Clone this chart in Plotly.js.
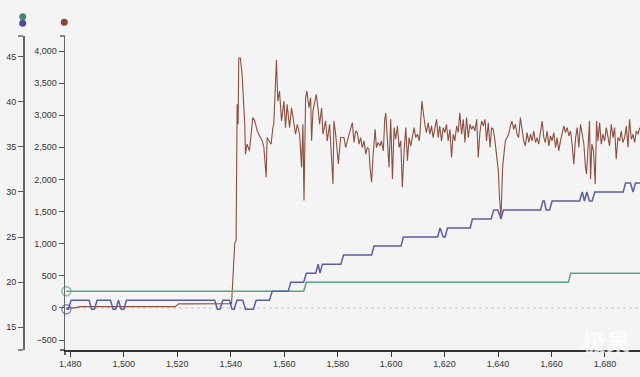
<!DOCTYPE html>
<html>
<head>
<meta charset="utf-8">
<script src="https://cdn.plot.ly/plotly-3.0.1.min.js"></script>
<style>html,body{margin:0;padding:0;background:#f4f4f4;}#chart{width:640px;height:377px;}</style>
</head>
<body>
<div id="chart"></div>
<script>
// ---- data ----
const xTicks = [1480, 1500, 1520, 1540, 1560, 1580, 1600, 1620, 1640, 1660, 1680];
const leftTicks = [15, 20, 25, 30, 35, 40, 45];
const innerTicks = [-500, 0, 500, 1000, 1500, 2000, 2500, 3000, 3500, 4000];

const greenX = [1478.5, 1567.3, 1568.3, 1666.3, 1667.2, 1693.1];
const greenY = [19, 19, 20, 20, 21, 21];

const purpleX = [1478.5, 1479.2, 1480.3, 1487, 1488, 1489, 1490, 1495, 1496, 1497, 1498, 1499, 1500, 1501,
  1534, 1535, 1536, 1537, 1539.5, 1540.5, 1541.3, 1542.3, 1544.5, 1545.5, 1548.5, 1549.5, 1554.5, 1555.5,
  1561.5, 1562.5, 1567.3, 1568.3, 1571.8, 1572.7, 1573.4, 1574.3, 1581.2, 1582.2, 1592.7, 1593.6, 1603.7, 1604.6,
  1617.4, 1618.3, 1619.5, 1620.2, 1621.1, 1629.6, 1630.4, 1637.4, 1638.4, 1639.9, 1641.1, 1642, 1655.9, 1656.8,
  1657.3, 1658, 1659.3, 1660.2, 1670.5, 1671.5, 1672.3, 1673.2, 1674.2, 1675.2, 1676.2, 1686.8, 1687.7, 1689.5,
  1690.5, 1691.4, 1693.1];
const purpleY = [17, 17, 18, 18, 17, 17, 18, 18, 17, 17, 18, 17, 17, 18,
  18, 17, 17, 18, 18, 17, 17, 18, 18, 17, 17, 18, 18, 19,
  19, 20, 20, 21, 21, 22, 21, 22, 22, 23, 23, 24, 24, 25,
  25, 26, 25, 25, 26, 26, 27, 27, 28, 28, 27, 28, 28, 29,
  29, 28, 28, 29, 29, 30, 29, 30, 29, 29, 30, 30, 31, 31,
  30, 31, 31];

const brownX = [1478.5, 1481.7, 1483.6, 1519.2, 1520.5, 1540.3, 1541.5, 1542, 1542.4, 1542.75, 1543, 1543.6,
  1544.25, 1545.25, 1545.5, 1546.1, 1547, 1547.75, 1548.25, 1549, 1549.9, 1550.5, 1551.1, 1551.75, 1552.4,
  1553.25, 1553.6, 1554.5, 1555.1, 1555.75, 1556.1, 1557.1, 1557.6, 1558.25, 1559, 1559.9, 1560.5, 1561.1,
  1562, 1562.75, 1563.6, 1564.25, 1564.9, 1565.75, 1566.5, 1567, 1567.4, 1568, 1568.5, 1569.25, 1569.9,
  1570.25, 1570.75, 1572, 1572.75, 1573.25, 1574, 1574.5, 1575.5, 1576.1, 1577, 1578.25, 1578.6, 1579.25,
  1580.25, 1581.1,
  1582.35, 1583.0, 1583.6, 1584.2, 1584.85, 1585.5, 1586.1, 1586.7, 1587.35, 1588.0, 1588.6, 1589.2, 1589.85,
  1590.5, 1591.1, 1591.7, 1592.1, 1592.7, 1593.2, 1594.0, 1594.5, 1595.1, 1595.85, 1596.35, 1597.1, 1597.6,
  1598.0, 1598.6, 1599.2, 1599.85, 1600.5, 1601.1, 1601.7, 1602.35, 1603.0, 1603.6, 1604.2, 1604.85, 1605.5,
  1606.1, 1606.7, 1607.35, 1608.0, 1608.6, 1609.2, 1609.85, 1610.5, 1610.85, 1611.5, 1612.1, 1612.6, 1613.2,
  1613.85, 1614.5, 1615.1, 1615.7, 1616.35, 1617.0, 1617.6, 1618.2, 1618.85, 1619.5, 1620.1, 1620.7, 1621.35,
  1622.0, 1622.6, 1623.2, 1623.85, 1624.5, 1625.1, 1625.7, 1626.35, 1627.0, 1627.6, 1628.2, 1628.85, 1629.5,
  1630.1, 1630.7, 1631.35, 1632.0, 1632.6, 1633.2, 1633.85, 1634.5, 1635.1, 1635.7, 1636.35, 1637.0, 1637.6,
  1638.2, 1638.85, 1639.5, 1640.1, 1640.6, 1641.1, 1641.7, 1642.1, 1642.7, 1643.35, 1644.0, 1644.6, 1645.2,
  1645.85, 1646.5, 1647.1, 1647.7, 1648.35, 1649.0, 1649.6, 1650.2, 1650.85, 1651.5, 1652.1, 1652.7, 1653.35,
  1654.0, 1654.6, 1655.2, 1655.85, 1656.5, 1657.1, 1657.7, 1658.35, 1659.0, 1659.6, 1660.2, 1660.85, 1661.5,
  1662.1, 1662.7, 1663.35, 1664.0, 1664.6, 1665.2, 1665.85, 1666.5, 1667.1, 1667.7, 1668.35, 1669.0, 1669.6,
  1670.2, 1670.85, 1671.5, 1672.1, 1672.7, 1673.1, 1673.6, 1674.2, 1674.6, 1675.1, 1675.7, 1676.35, 1676.85,
  1677.35, 1678.0, 1678.6, 1679.2, 1679.85, 1680.5, 1681.1, 1681.7, 1682.35, 1683.0, 1683.6, 1684.2, 1684.85,
  1685.5, 1686.1, 1686.7, 1687.35, 1688.0, 1688.6, 1689.2, 1689.85, 1690.5, 1691.1, 1691.7, 1692.35, 1693.0];
const brownY = [0, 0, 20, 20, 62, 65, 1001, 1053, 3169, 2859, 3891, 3891,
  3633, 2859, 2395, 2549, 2446, 2704, 2962, 2911, 2756, 2704, 2653, 2601, 2498,
  2033, 2653, 2601, 2549, 2807, 2859, 3865, 3220, 3375, 2911, 3220, 2807, 3169,
  2807, 3117, 2859, 2704, 2859, 2704, 2188, 2859, 1672, 3272, 3375, 3117, 3272,
  2601, 3065, 3323, 3065, 2859, 3117, 2704, 2911, 2601, 2859, 1930, 2911, 2704,
  2240, 2653,
  2652, 2497, 2601, 2704, 2807, 2884, 2575, 2755, 2730, 2549, 2652, 2497, 2601,
  2394, 2497, 2472, 2188, 1956, 2343, 2781, 2497, 2575, 2523, 2601, 2446, 2936,
  3039, 2549, 2188, 2936, 2007, 2807, 2626, 2833, 2497, 2601, 1878, 2446, 2807,
  2291, 2652, 2523, 2678, 2807, 2652, 2704, 2601, 2755, 3220, 2962, 2859, 2730,
  2884, 2704, 2833, 2652, 2781, 2936, 2652, 2833, 2601, 2807, 2730, 2859, 2601,
  2781, 2343, 2704, 2601, 2833, 2730, 3039, 2704, 2936, 2575, 2962, 2652, 2859,
  2781, 2833, 2755, 2936, 2343, 2730, 2910, 2833, 2936, 2601, 2884, 2497, 2807,
  2781, 2601, 2368, 2136, 1672, 1414, 2188, 2394, 2601, 2652, 2704, 2833, 2910,
  2781, 2859, 2704, 2652, 2962, 2755, 2601, 2523, 2730, 2575, 2704, 2601, 2755,
  2575, 2652, 2549, 2730, 2910, 2652, 2575, 2755, 2523, 2678, 2601, 2730, 2497,
  2652, 2446, 2601, 2755, 2833, 2730, 2807, 2678, 2755, 2549, 2239, 2652, 2807,
  2497, 2859, 2704, 2549, 2188, 2085, 2446, 2910, 2007, 2549, 2446, 1930, 2910,
  2601, 2884, 2549, 2704, 2601, 2807, 2678, 2523, 2859, 2652, 2807, 2317, 2652,
  2601, 2755, 2575, 2652, 2833, 2497, 2936, 2626, 2704, 2575, 2755, 2704, 2807];

// ---- styling ----
const GREEN = '#5f9f86', PURPLE = '#5b5ea3', BROWN = '#8c4f40';
const FONT = {family: 'Liberation Sans, Arial, sans-serif', size: 9, color: '#333'};
const plotW = 617, plotH = 314, marginL = 23, marginT = 36;
const innerPos = (65 - marginL) / plotW;

function firstMarker(arr) { return arr.map((_, i) => i === 0 ? 9 : 0); }

const traces = [
  {x: brownX, y: brownY, type: 'scatter', mode: 'lines', yaxis: 'y', xaxis: 'x',
   line: {color: BROWN, width: 1.1}, hoverinfo: 'skip'},
  {x: greenX, y: greenY, type: 'scatter', mode: 'lines+markers', yaxis: 'y2', xaxis: 'x',
   line: {color: GREEN, width: 1.5}, cliponaxis: false,
   marker: {symbol: 'circle-open', size: firstMarker(greenX), color: GREEN, line: {width: 1.5, color: GREEN}}},
  {x: purpleX, y: purpleY, type: 'scatter', mode: 'lines+markers', yaxis: 'y2', xaxis: 'x',
   line: {color: PURPLE, width: 1.5}, cliponaxis: false,
   marker: {symbol: 'circle-open', size: firstMarker(purpleX), color: PURPLE, line: {width: 1.5, color: PURPLE}}}
];

function px2paperY(py) { return 1 + (marginT - py) / plotH; }
function px2paperX(pxv) { return (pxv - marginL) / plotW; }

function dot(cx, cy, r, color) {
  return {type: 'circle', xref: 'paper', yref: 'paper', xsizemode: 'pixel', ysizemode: 'pixel',
    xanchor: px2paperX(cx), yanchor: px2paperY(cy), x0: -r, x1: r, y0: -r, y1: r,
    fillcolor: color, line: {width: 0}};
}
function hcap(xp, yp, color) {
  return {type: 'line', xref: 'paper', yref: 'paper', xsizemode: 'pixel', xanchor: xp,
    x0: -5, x1: 0, y0: yp, y1: yp, line: {color: color, width: 1.5}};
}

const shapes = [
  {type: 'line', xref: 'paper', yref: 'y', x0: innerPos, x1: 1, y0: 0, y1: 0, layer: 'below',
   line: {color: '#d2d2d2', width: 1.5, dash: 'dot'}},
  hcap(0, 1, '#666'), hcap(0, 0, '#666'),
  hcap(innerPos, 1, '#666'), hcap(innerPos, 0, '#333'),
  {type: 'line', xref: 'paper', yref: 'paper', ysizemode: 'pixel', yanchor: 0, y0: 0, y1: -5,
   x0: innerPos, x1: innerPos, line: {color: '#333', width: 1.5}},
  dot(22.7, 23.3, 3.5, '#4a4d96'),
  dot(22.7, 16.7, 3.5, '#3f8a70'),
  dot(64.3, 22.3, 3.5, '#8a4838')
];

const layout = {
  width: 640, height: 377,
  paper_bgcolor: '#f4f4f4', plot_bgcolor: '#f4f4f4',
  margin: {l: marginL, r: 0, t: marginT, b: 377 - 350, pad: 0},
  showlegend: false,
  font: FONT,
  xaxis: {domain: [innerPos, 1], range: [1478, 1693.1], tickvals: xTicks, tickformat: ',d',
    ticks: 'outside', ticklen: 5, tickwidth: 1, tickcolor: '#333', showline: true, linecolor: '#333',
    linewidth: 1.5, showgrid: false, zeroline: false, anchor: 'y', tickfont: FONT},
  yaxis: {range: [-655.7, 4233.6], tickvals: innerTicks, tickformat: ',d', ticks: 'outside', ticklen: 5,
    tickwidth: 1, tickcolor: '#555', showline: true, linecolor: '#666', linewidth: 1.5, showgrid: false,
    zeroline: false, anchor: 'x', side: 'left', tickfont: FONT},
  yaxis2: {range: [12.48, 47.29], tickvals: leftTicks, ticks: 'outside', ticklen: 5, tickwidth: 1,
    tickcolor: '#555', showline: true, linecolor: '#666', linewidth: 1.5, showgrid: false, zeroline: false,
    overlaying: 'y', anchor: 'free', position: 0, side: 'left', tickfont: FONT},
  shapes: shapes,
  annotations: [
    {text: '极果', xref: 'paper', yref: 'paper', x: px2paperX(606), y: px2paperY(340),
     xanchor: 'center', yanchor: 'middle', showarrow: false,
     font: {family: 'Noto Sans CJK SC', size: 24, weight: 700, color: 'rgba(255,255,255,0.75)'}}
  ]
};

Plotly.newPlot('chart', traces, layout, {displayModeBar: false, staticPlot: true});
</script>
</body>
</html>
